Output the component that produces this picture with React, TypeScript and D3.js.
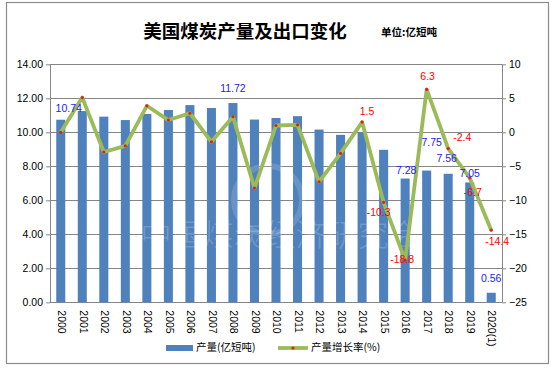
import React, { useEffect, useRef } from "react";
import { select, scaleBand, scaleLinear, axisLeft, axisRight, line } from "d3";

const years = ["2000", "2001", "2002", "2003", "2004", "2005", "2006", "2007", "2008", "2009", "2010",
  "2011", "2012", "2013", "2014", "2015", "2016", "2017", "2018", "2019", "2020(1)"];
const output = [10.74, 11.25, 10.92, 10.72, 11.08, 11.31, 11.6, 11.43, 11.72, 10.75, 10.84,
  10.95, 10.16, 9.85, 10.0, 8.97, 7.28, 7.75, 7.56, 7.05, 0.56];
const growth = [0.0, 5.1, -2.9, -2.0, 3.9, 1.8, 2.8, -1.4, 2.3, -8.2, 1.0,
  1.1, -7.3, -3.1, 1.5, -10.3, -18.8, 6.3, -2.4, -6.7, -14.4];
const leftTicks = [0, 2, 4, 6, 8, 10, 12, 14];
const rightTicks = [-25, -20, -15, -10, -5, 0, 5, 10];
const barLabelYears = ["2000", "2008", "2016", "2017", "2018", "2019", "2020(1)"];
const rateLabelYears = ["2014", "2015", "2016", "2017", "2018", "2019", "2020(1)"];

const title = "美国煤炭产量及出口变化";
const unit = "单位:亿短吨";
const barName = "产量(亿短吨)";
const lineName = "产量增长率(%)";

// label nudges, px (dx, dy from the mark)
const barLabelShift = { "2000": [8, -11], "2008": [0, -14], "2016": [1, -7.5], "2017": [5, -27.5],
  "2018": [-1.5, -15], "2019": [0, -8.5], "2020(1)": [0, -14] };
const rateLabelShift = { "2014": [5, -10], "2015": [-5, 11], "2016": [-3, 0.5], "2017": [1, -12.5],
  "2018": [14, -10.5], "2019": [3, 15], "2020(1)": [6, 11.5] };

const W = 557, H = 369;
const m = { left: 50, right: 502, top: 64.3, bottom: 302.3 };
const font = "'Liberation Sans', Arial, sans-serif";
const cjk = "'Noto Sans CJK SC', sans-serif";

export default function App() {
  const svgRef = useRef(null);

  useEffect(() => {
    const svg = select(svgRef.current);
    svg.selectAll("*").remove();

    const x = scaleBand().domain(years).range([m.left, m.right]).paddingInner(0.58).paddingOuter(0.29);
    const yL = scaleLinear().domain([0, 14]).range([m.bottom, m.top]);
    const yR = scaleLinear().domain([-25, 10]).range([m.bottom, m.top]);
    const cx = (d) => x(d) + x.bandwidth() / 2;

    svg.append("rect").attr("x", 6.5).attr("y", 2.5).attr("width", 542).attr("height", 361)
      .attr("fill", "#fff").attr("stroke", "#8c8c8c").attr("stroke-width", 1.2);

    svg.append("text").attr("x", 245).attr("y", 38).attr("text-anchor", "middle")
      .attr("font-family", cjk).attr("font-weight", 700).attr("font-size", 18.5).text(title);
    svg.append("text").attr("x", 381).attr("y", 36).attr("font-family", cjk)
      .attr("font-weight", 700).attr("font-size", 10.5).text(unit);

    // grid
    svg.append("g").selectAll("line").data(leftTicks).join("line")
      .attr("x1", m.left).attr("x2", m.right)
      .attr("y1", (d) => Math.round(yL(d)) + 0.5).attr("y2", (d) => Math.round(yL(d)) + 0.5)
      .attr("stroke", "#868686").attr("stroke-width", 1);

    const gl = svg.append("g").attr("transform", `translate(${m.left},0)`)
      .call(axisLeft(yL).tickValues(leftTicks).tickFormat((d) => d.toFixed(2)).tickSize(4).tickPadding(3));
    const gr = svg.append("g").attr("transform", `translate(${m.right},0)`)
      .call(axisRight(yR).tickValues(rightTicks).tickSize(4).tickPadding(3));
    [gl, gr].forEach((g) => {
      g.selectAll("path,line").attr("stroke", "#868686");
      g.selectAll("text").attr("font-family", font).attr("font-size", 10.5).attr("fill", "#000");
      g.select(".domain").remove();
    });
    svg.append("line").attr("x1", m.left + 0.5).attr("x2", m.left + 0.5).attr("y1", m.top).attr("y2", m.bottom)
      .attr("stroke", "#868686");
    svg.append("line").attr("x1", m.right + 0.5).attr("x2", m.right + 0.5).attr("y1", m.top).attr("y2", m.bottom)
      .attr("stroke", "#868686");

    // bars
    svg.append("g").selectAll("rect").data(years).join("rect")
      .attr("x", (d) => x(d)).attr("width", x.bandwidth())
      .attr("y", (d, i) => yL(output[i])).attr("height", (d, i) => m.bottom - yL(output[i]))
      .attr("fill", "#4F81BD");

    // watermark
    svg.append("circle").attr("cx", 268).attr("cy", 200).attr("r", 34)
      .attr("fill", "none").attr("stroke", "#fff").attr("stroke-opacity", 0.15).attr("stroke-width", 6);
    svg.append("text").attr("x", 280).attr("y", 246).attr("text-anchor", "middle")
      .attr("font-family", cjk).attr("font-weight", 300).attr("font-size", 31)
      .attr("fill", "#fff").attr("fill-opacity", 0.2).text("中国煤炭经济研究会");

    // x labels
    svg.append("g").selectAll("text").data(years).join("text")
      .attr("transform", (d) => `translate(${cx(d)},${m.bottom + 8}) rotate(90)`)
      .attr("dominant-baseline", "middle").attr("font-family", font).attr("font-size", 10.5)
      .text((d) => d);

    // growth line
    const ln = line().x((d, i) => cx(years[i])).y((d) => yR(d));
    svg.append("path").datum(growth).attr("d", ln).attr("fill", "none")
      .attr("stroke", "#9BBB59").attr("stroke-width", 3.8).attr("stroke-linejoin", "round");
    svg.append("g").selectAll("circle").data(growth).join("circle")
      .attr("cx", (d, i) => cx(years[i])).attr("cy", (d) => yR(d)).attr("r", 1.6).attr("fill", "#e0201b");

    // labels
    svg.append("g").selectAll("text").data(barLabelYears).join("text")
      .attr("x", (d) => cx(d) + barLabelShift[d][0])
      .attr("y", (d) => yL(output[years.indexOf(d)]) + barLabelShift[d][1])
      .attr("text-anchor", "middle").attr("dominant-baseline", "middle")
      .attr("font-family", font).attr("font-size", 10.5).attr("fill", "#1a1aff")
      .text((d) => output[years.indexOf(d)].toFixed(2));
    svg.append("g").selectAll("text").data(rateLabelYears).join("text")
      .attr("x", (d) => cx(d) + rateLabelShift[d][0])
      .attr("y", (d) => yR(growth[years.indexOf(d)]) + rateLabelShift[d][1])
      .attr("text-anchor", "middle").attr("dominant-baseline", "middle")
      .attr("font-family", font).attr("font-size", 10.5).attr("fill", "#ff0000")
      .text((d) => String(growth[years.indexOf(d)]));

    // legend
    const lg = svg.append("g");
    lg.append("rect").attr("x", 166).attr("y", 345).attr("width", 27).attr("height", 6).attr("fill", "#4F81BD");
    lg.append("text").attr("x", 196).attr("y", 348.5).attr("dominant-baseline", "middle")
      .attr("font-family", cjk).attr("font-size", 10.5).text(barName);
    lg.append("line").attr("x1", 278).attr("x2", 308).attr("y1", 348).attr("y2", 348)
      .attr("stroke", "#9BBB59").attr("stroke-width", 3.8);
    lg.append("circle").attr("cx", 293).attr("cy", 348).attr("r", 1.6).attr("fill", "#e0201b");
    lg.append("text").attr("x", 311).attr("y", 348.5).attr("dominant-baseline", "middle")
      .attr("font-family", cjk).attr("font-size", 10.5).text(lineName);
  }, []);

  return (
    <svg ref={svgRef} width={W} height={H}
      style={{ position: "absolute", left: 0, top: 0, background: "#fff" }} />
  );
}
